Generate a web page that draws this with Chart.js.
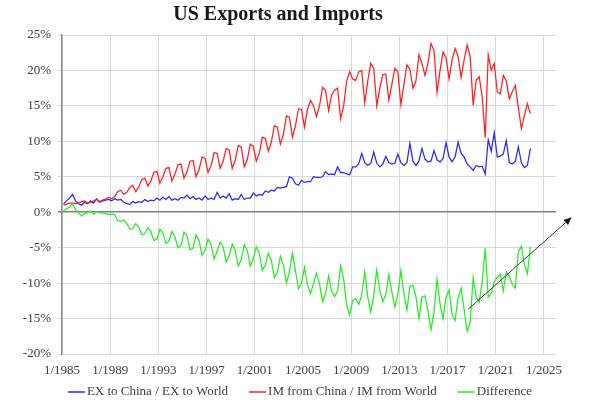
<!DOCTYPE html>
<html>
<head>
<meta charset="utf-8">
<title>US Exports and Imports</title>
<script src="https://cdn.jsdelivr.net/npm/chart.js@4.4.1/dist/chart.umd.min.js"></script>
<style>
  html, body { margin: 0; padding: 0; background: #fff; }
  #wrap { width: 600px; height: 400px; }
</style>
</head>
<body>
<div id="wrap"><canvas id="chart" width="600" height="400"></canvas></div>
<script>
// Shares in %, one row per year (Feb, May, Aug, Nov), 1985 .. 2023
const firstYear = 1985;

const exShare = [
  1.2, 1.6, 2.0, 2.5,   1.6, 1.2, 1.0, 1.4,   1.2, 1.6, 1.3, 1.9,   1.4, 1.6, 1.7, 1.8,
  1.6, 1.9, 1.7, 1.8,   1.4, 1.2, 1.1, 1.5,   1.3, 1.5, 1.4, 1.8,   1.5, 1.7, 1.6, 2.0,
  1.7, 2.1, 1.8, 2.2,   1.7, 1.9, 1.7, 2.1,   2.0, 2.4, 1.9, 2.2,   1.8, 2.0, 1.7, 2.3,
  1.8, 2.0, 1.8, 2.8,   2.0, 2.3, 2.0, 2.6,   1.7, 1.9, 1.8, 2.5,   1.8, 2.0, 2.0, 2.7,
  2.3, 2.5, 2.4, 3.0,   2.8, 3.1, 3.0, 3.5,   3.4, 3.5, 3.6, 5.0,   4.8, 4.0, 3.8, 4.5,
  4.2, 4.3, 4.3, 5.0,   4.9, 4.9, 5.0, 5.7,   5.3, 5.4, 5.3, 6.4,   5.6, 5.6, 5.4, 5.3,
  6.4, 6.4, 6.8, 8.3,   7.0, 6.6, 6.9, 8.5,   6.9, 6.4, 6.8, 7.9,   7.0, 6.8, 6.9, 8.2,
  7.0, 6.6, 7.0, 9.7,   7.2, 6.6, 7.2, 9.0,   7.5, 7.1, 7.2, 8.7,   7.4, 7.1, 7.6, 9.8,
  7.8, 7.1, 7.8, 9.9,   8.3, 7.8, 6.8, 6.4,   5.9, 6.6, 6.4, 6.5,   5.4, 10.2, 8.6, 11.2,
  7.8, 7.9, 8.2, 10.1,  7.0, 6.8, 7.2, 9.2,   7.0, 6.3, 6.6, 9.0
];

const imShare = [
  1.0, 1.1, 1.3, 1.3,   1.2, 1.3, 1.5, 1.6,   1.3, 1.4, 1.6, 1.8,   1.5, 1.7, 1.9, 2.1,
  1.9, 2.2, 2.9, 3.1,   2.5, 2.8, 3.5, 3.8,   2.9, 3.6, 4.6, 4.8,   3.7, 4.4, 5.6, 5.8,
  4.1, 5.0, 6.2, 6.3,   4.4, 5.4, 6.7, 6.8,   4.8, 5.7, 7.2, 7.3,   5.0, 6.0, 7.8, 7.6,
  5.6, 6.6, 8.4, 8.3,   6.2, 7.2, 9.0, 8.8,   6.2, 7.3, 9.4, 9.2,   6.4, 7.4, 9.6, 9.3,
  7.2, 8.3, 10.6, 10.4, 8.6, 9.9, 12.2, 12.0, 9.6, 11.0, 13.6, 13.4, 10.6, 12.2, 14.6, 14.5,
  12.0, 14.5, 15.8, 15.0, 13.5, 15.0, 17.6, 17.2, 14.3, 16.5, 17.2, 17.5, 13.2, 15.0, 18.5, 19.8,
  18.8, 18.6, 19.8, 20.0, 15.4, 18.5, 21.0, 20.3, 15.0, 17.5, 19.4, 19.5, 15.8, 18.0, 20.3, 19.8,
  15.2, 18.0, 20.8, 20.2, 17.5, 18.5, 22.2, 21.0, 19.3, 21.0, 23.8, 22.8, 16.9, 20.0, 22.6, 21.8,
  18.8, 21.5, 23.1, 22.0, 19.0, 21.5, 23.6, 22.0, 15.1, 18.6, 19.1, 16.3, 10.5, 22.2, 20.0, 21.0,
  17.0, 16.7, 19.3, 18.5, 16.0, 17.0, 17.9, 14.8, 11.8, 13.7, 15.3, 13.9
];

const difference = [
  0.2, 0.5, 0.7, 1.2,   0.4, -0.1, -0.5, -0.2,   -0.1, 0.2, -0.3, 0.1,   -0.1, -0.1, -0.2, -0.3,
  -0.3, -0.3, -1.2, -1.3,   -1.1, -1.6, -2.4, -2.3,   -1.6, -2.1, -3.2, -3.0,   -2.2, -2.7, -4.0, -3.8,
  -2.4, -2.9, -4.4, -4.1,   -2.7, -3.5, -5.0, -4.7,   -2.8, -3.3, -5.3, -5.1,   -3.2, -4.0, -6.1, -5.3,
  -3.8, -4.6, -6.6, -5.5,   -4.2, -4.9, -7.0, -6.2,   -4.5, -5.4, -7.6, -6.7,   -4.6, -5.4, -7.6, -6.6,
  -4.9, -5.8, -8.2, -7.4,   -5.8, -6.8, -9.2, -8.5,   -6.2, -7.5, -10.0, -8.4,   -5.8, -8.2, -10.8, -10.0,
  -7.8, -10.2, -11.5, -10.0,   -8.6, -10.1, -12.6, -11.5,   -9.0, -11.1, -11.9, -11.1,   -7.6, -9.4, -13.1, -14.5,
  -12.4, -12.2, -13.0, -11.7,   -8.4, -11.9, -14.1, -11.8,   -8.1, -11.1, -12.6, -11.6,   -8.8, -11.2, -13.4, -11.6,
  -8.2, -11.4, -13.8, -10.5,   -10.3, -11.9, -15.0, -12.0,   -11.8, -13.9, -16.6, -14.1,   -9.5, -12.9, -15.0, -12.0,
  -11.0, -14.4, -15.3, -12.1,   -10.7, -13.7, -16.8, -15.6,   -9.2, -12.0, -12.7, -9.8,   -5.1, -12.0, -11.4, -9.8,
  -9.2, -8.8, -11.1, -8.4,   -9.0, -10.2, -10.7, -5.6,   -4.8, -7.4, -8.7, -4.9
];

const tickYears = [1985, 1989, 1993, 1997, 2001, 2005, 2009, 2013, 2017, 2021, 2025];

// trend arrow drawn on the chart, [year, %]
const arrowFrom = [2018.7, -13.7];
const arrowTo = [2027.3, -0.7];

// mid-month of each quarter
const quarterDates = [];
for (let i = 0; i < imShare.length; i++) {
    quarterDates.push(firstYear + i * 0.25 + 0.125);
}

const toPoints = values => values.map((v, i) => ({ x: quarterDates[i], y: v }));

const serif = 'Liberation Serif, Times New Roman, serif';

const arrowPlugin = {
    id: 'trendArrow',
    afterDatasetsDraw(chart) {
        const { ctx, scales } = chart;
        const x1 = scales.x.getPixelForValue(arrowFrom[0]);
        const y1 = scales.y.getPixelForValue(arrowFrom[1]);
        const x2 = scales.x.getPixelForValue(arrowTo[0]);
        const y2 = scales.y.getPixelForValue(arrowTo[1]);
        const ang = Math.atan2(y2 - y1, x2 - x1);
        const len = 8, half = 3.5;
        ctx.save();
        ctx.strokeStyle = '#404040';
        ctx.fillStyle = '#1a1a1a';
        ctx.lineWidth = 1;
        ctx.beginPath();
        ctx.moveTo(x1, y1);
        ctx.lineTo(x2 - Math.cos(ang) * len, y2 - Math.sin(ang) * len);
        ctx.stroke();
        ctx.beginPath();
        ctx.moveTo(x2, y2);
        ctx.lineTo(x2 - Math.cos(ang) * len - Math.sin(ang) * half, y2 - Math.sin(ang) * len + Math.cos(ang) * half);
        ctx.lineTo(x2 - Math.cos(ang) * len + Math.sin(ang) * half, y2 - Math.sin(ang) * len - Math.cos(ang) * half);
        ctx.closePath();
        ctx.fill();
        ctx.restore();
    }
};

// Excel-like legend row: short line, text right after it, centred under the chart
const lineLegend = {
    id: 'lineLegend',
    afterDraw(chart) {
        const ctx = chart.ctx;
        const sample = 17, textGap = 2, itemGap = 21;
        const y = chart.height - 8;
        ctx.save();
        ctx.font = '13px ' + serif;
        ctx.textBaseline = 'middle';
        const items = chart.data.datasets.map(ds => ({
            text: ds.label,
            color: ds.borderColor,
            w: sample + textGap + ctx.measureText(ds.label).width
        }));
        const total = items.reduce((s, it) => s + it.w, 0) + itemGap * (items.length - 1);
        let x = chart.width / 2 - total / 2;
        items.forEach(it => {
            ctx.strokeStyle = it.color;
            ctx.lineWidth = 1.5;
            ctx.beginPath();
            ctx.moveTo(x, y);
            ctx.lineTo(x + sample, y);
            ctx.stroke();
            ctx.fillStyle = '#404040';
            ctx.fillText(it.text, x + sample + textGap, y);
            x += it.w + itemGap;
        });
        ctx.restore();
    }
};

new Chart(document.getElementById('chart'), {
    type: 'line',
    data: {
        datasets: [
            {
                label: 'EX to China / EX to World',
                data: toPoints(exShare),
                borderColor: '#2828ff',
                backgroundColor: '#2828ff',
                borderWidth: 1.25,
                order: 2
            },
            {
                label: 'IM from China / IM from World',
                data: toPoints(imShare),
                borderColor: '#ff2020',
                backgroundColor: '#ff2020',
                borderWidth: 1.25,
                order: 1
            },
            {
                label: 'Difference',
                data: toPoints(difference),
                borderColor: '#22ee22',
                backgroundColor: '#22ee22',
                borderWidth: 1.25,
                order: 0
            }
        ]
    },
    options: {
        responsive: false,
        animation: false,
        elements: { point: { radius: 0 }, line: { tension: 0 } },
        layout: { padding: { left: 0, right: 44, top: 0, bottom: 21 } },
        scales: {
            x: {
                type: 'linear',
                min: 1985,
                max: 2026,
                afterBuildTicks: axis => { axis.ticks = tickYears.map(v => ({ value: v })); },
                afterFit: axis => { axis.height = 25; },
                grid: { color: '#d9d9d9', drawTicks: false },
                border: { display: false },
                ticks: {
                    padding: 9,
                    maxRotation: 0,
                    autoSkip: false,
                    color: '#404040',
                    font: { family: serif, size: 13 },
                    callback: v => '1/' + v
                }
            },
            y: {
                min: -20,
                max: 25,
                afterFit: axis => { axis.width = 62; },
                grid: {
                    color: c => (c.tick && c.tick.value === 0 ? '#808080' : '#d9d9d9'),
                    lineWidth: c => (c.tick && c.tick.value === 0 ? 1.5 : 1),
                    tickLength: 4
                },
                border: { color: '#8c8c8c', width: 1.5 },
                ticks: {
                    stepSize: 5,
                    padding: 7,
                    color: '#404040',
                    font: { family: serif, size: 13 },
                    callback: v => v + '%'
                }
            }
        },
        plugins: {
            title: {
                display: true,
                text: 'US Exports and Imports',
                color: '#1a1a1a',
                font: { family: serif, size: 20, weight: 'bold' },
                padding: { top: 3, bottom: 8 }
            },
            legend: { display: false },
            tooltip: { enabled: false }
        }
    },
    plugins: [arrowPlugin, lineLegend]
});
</script>
</body>
</html>
